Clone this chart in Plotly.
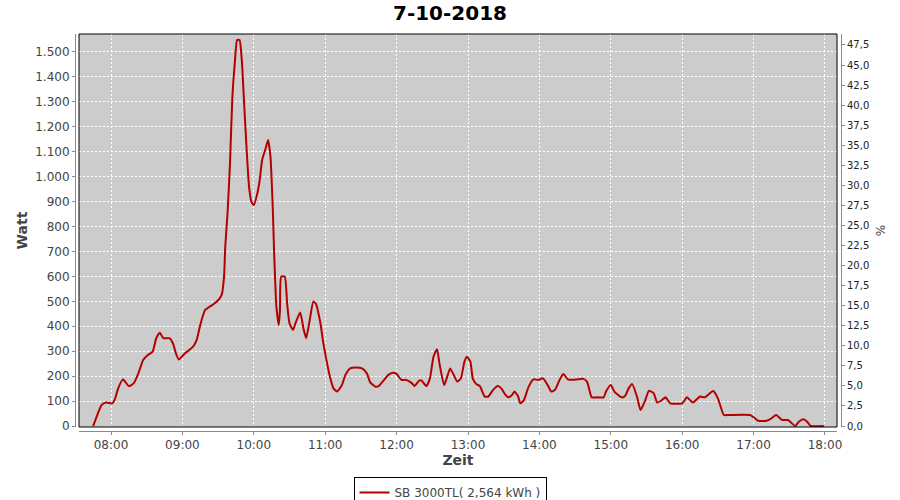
import plotly.graph_objects as go

DATE = "2018-10-07"
title_text = "7-10-2018"
series_name = "SB 3000TL( 2,564 kWh )"

times = ["07:45", "07:49", "07:52", "07:56", "08:01", "08:03", "08:06", "08:10", "08:15", "08:19",
         "08:23", "08:27", "08:31", "08:35", "08:38", "08:41", "08:44", "08:49", "08:52", "08:55",
         "08:57", "09:02", "09:09", "09:12", "09:15", "09:19", "09:25", "09:29", "09:33", "09:35",
         "09:36", "09:38", "09:40", "09:42", "09:44", "09:46", "09:48", "09:50", "09:52", "09:54",
         "09:56", "09:58", "10:00", "10:03", "10:05", "10:07", "10:10", "10:12", "10:14", "10:16",
         "10:17", "10:19", "10:21", "10:22", "10:23", "10:26", "10:28", "10:30", "10:33", "10:35",
         "10:39", "10:42", "10:44", "10:47", "10:50", "10:52", "10:56", "10:58", "11:01", "11:04",
         "11:07", "11:10", "11:14", "11:17", "11:21", "11:25", "11:31", "11:35", "11:38", "11:42",
         "11:45", "11:49", "11:53", "11:57", "12:00", "12:04", "12:08", "12:13", "12:15", "12:19",
         "12:21", "12:25", "12:28", "12:31", "12:34", "12:36", "12:40", "12:43", "12:45", "12:48",
         "12:51", "12:54", "12:57", "12:59", "13:02", "13:04", "13:07", "13:10", "13:14", "13:17",
         "13:21", "13:25", "13:28", "13:31", "13:34", "13:37", "13:39", "13:42", "13:44", "13:47",
         "13:51", "13:55", "13:59", "14:03", "14:07", "14:10", "14:13", "14:17", "14:20", "14:24",
         "14:28", "14:37", "14:40", "14:41", "14:44", "14:49", "14:54", "14:56", "15:00", "15:03",
         "15:09", "15:12", "15:15", "15:18", "15:22", "15:25", "15:29", "15:32", "15:36", "15:39",
         "15:43", "15:46", "15:50", "16:00", "16:04", "16:09", "16:15", "16:19", "16:26", "16:30",
         "16:35", "16:39", "16:57", "17:00", "17:04", "17:11", "17:15", "17:19", "17:24", "17:29",
         "17:35", "17:38", "17:42", "17:45", "17:48", "17:59"]

watts = [0, 51, 84, 94, 91, 104, 151, 187, 160, 171,
         211, 265, 285, 298, 352, 374, 352, 352, 332, 285,
         267, 291, 318, 345, 405, 465, 485, 499, 526, 599,
         719, 860, 1054, 1321, 1454, 1548, 1548, 1461, 1281, 1107,
         960, 900, 886, 933, 987, 1067, 1114, 1147, 1080, 866,
         706, 479, 405, 465, 599, 599, 492, 412, 385, 412,
         455, 385, 352, 425, 499, 492, 412, 345, 265, 198,
         151, 138, 164, 205, 231, 235, 231, 211, 174, 158,
         160, 182, 205, 214, 209, 185, 185, 171, 160, 182,
         182, 160, 191, 278, 308, 251, 164, 205, 231, 205,
         178, 191, 258, 278, 258, 191, 168, 160, 118, 118,
         144, 160, 151, 128, 115, 124, 138, 120, 91, 104,
         158, 187, 185, 191, 164, 138, 144, 185, 209, 187,
         185, 189, 178, 164, 115, 115, 115, 138, 164, 138,
         115, 120, 151, 168, 118, 64, 104, 141, 132, 94,
         104, 115, 91, 91, 115, 94, 118, 115, 140, 111,
         44, 44, 44, 35, 21, 21, 31, 44, 24, 24,
         0, 17, 27, 17, 0, 0]

x_ticks = ["08:00", "09:00", "10:00", "11:00", "12:00", "13:00",
           "14:00", "15:00", "16:00", "17:00", "18:00"]
watt_ticks = [0, 100, 200, 300, 400, 500, 600, 700, 800, 900, 1000,
              1100, 1200, 1300, 1400, 1500]
pct_ticks = [0, 2.5, 5, 7.5, 10, 12.5, 15, 17.5, 20, 22.5, 25, 27.5, 30,
             32.5, 35, 37.5, 40, 42.5, 45, 47.5]

W, H = 900, 500
L, R, T, B = 75, 59, 34, 69
PW, PH = W - L - R, H - T - B
GAP = 4
AXIS_GREY = "#8a8a8a"
FONT = "DejaVu Sans"

fig = go.Figure()
fig.add_trace(go.Scatter(
    x=[f"{DATE} {t}" for t in times], y=watts, mode="lines",
    name=series_name,
    line=dict(color="#b40000", width=2, shape="spline", smoothing=0.5),
))
# empty trace so the right-hand percent axis is drawn
fig.add_trace(go.Scatter(
    x=[f"{DATE} {times[0]}"], y=[None], yaxis="y2", mode="lines",
    showlegend=False, hoverinfo="skip",
))

fig.update_layout(
    width=W, height=H,
    margin=dict(l=L, r=R, t=T, b=B, autoexpand=False),
    paper_bgcolor="white", plot_bgcolor="#cccccc",
    separators=",.",
    font=dict(family=FONT, size=12, color="#444444"),
    title=dict(text=title_text, x=0.5, xref="container", xanchor="center",
               y=1 - 13 / H, yref="container", yanchor="middle",
               font=dict(family=FONT, size=20, color="black", weight="bold")),
    xaxis=dict(
        type="date",
        range=[f"{DATE} 07:33:06", f"{DATE} 18:10:06"],
        domain=[GAP / PW, 1 - GAP / PW],
        anchor="free", position=0,
        tickvals=[f"{DATE} {t}" for t in x_ticks], ticktext=x_ticks,
        showgrid=True, gridcolor="white", griddash="2px,2px", gridwidth=1,
        showline=True, linecolor=AXIS_GREY, linewidth=1,
        ticks="outside", ticklen=3, tickcolor=AXIS_GREY,
        tickfont=dict(size=12, color="#444444"),
        zeroline=False,
        title=dict(text="Zeit", standoff=3,
                   font=dict(family=FONT, size=14, color="#444444", weight="bold")),
    ),
    yaxis=dict(
        range=[-4, 1572],
        domain=[GAP / PH, 1],
        anchor="free", position=0,
        tickvals=watt_ticks, tickformat=",d",
        showgrid=True, gridcolor="white", griddash="2px,2px", gridwidth=1,
        showline=True, linecolor=AXIS_GREY, linewidth=1,
        ticks="outside", ticklen=3, tickcolor=AXIS_GREY,
        tickfont=dict(size=12, color="#444444"),
        zeroline=False,
        title=dict(text="Watt", standoff=3,
                   font=dict(family=FONT, size=14, color="#444444", weight="bold")),
    ),
    yaxis2=dict(
        overlaying="y", side="right",
        anchor="free", position=1,
        range=[-0.125, 48.87],
        tickvals=pct_ticks, tickformat=".1f",
        showgrid=False, zeroline=False,
        showline=True, linecolor=AXIS_GREY, linewidth=1,
        ticks="outside", ticklen=3, tickcolor=AXIS_GREY,
        tickfont=dict(size=10, color="#222222"),
        title=dict(text="%", standoff=8,
                   font=dict(family=FONT, size=12, color="#444444")),
    ),
    showlegend=True,
    legend=dict(orientation="h", x=(450 - L) / PW, xanchor="center",
                y=-(477 - (T + PH)) / PH, yanchor="top",
                bgcolor="white", bordercolor="black", borderwidth=1,
                font=dict(family=FONT, size=12, color="#444444"),
                itemwidth=30),
    shapes=[dict(type="rect", xref="x domain", yref="y domain",
                 x0=0, x1=1, y0=0, y1=1, line=dict(color="black", width=1),
                 layer="above")],
)

fig.write_html("out.html", config={"displayModeBar": False},
               post_script="document.body.style.margin='0px';")
